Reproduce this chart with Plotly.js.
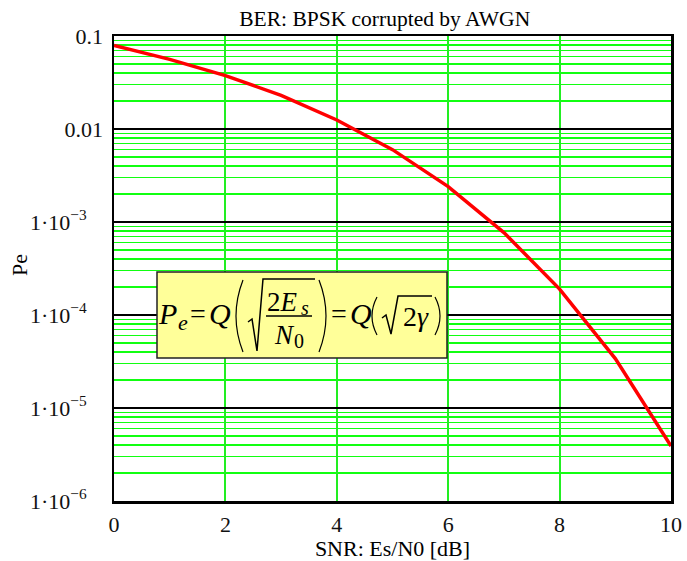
<!DOCTYPE html>
<html>
<head>
<meta charset="utf-8">
<script src="https://cdn.plot.ly/plotly-3.0.1.min.js"></script>
<style>html,body{margin:0;padding:0;background:#fff;}#chart{width:687px;height:561px;}</style>
</head>
<body>
<div id="chart"></div>
<script>
// Data
const snrDb = [0, 1, 2, 3, 4, 5, 6, 7, 8, 9, 10];
const berValues = [0.079, 0.056, 0.0375, 0.023, 0.0125, 0.006, 0.0024, 0.00077, 0.00019, 0.000034, 0.0000039];
const yTickVals = [1e-6, 1e-5, 1e-4, 1e-3, 0.01, 0.1];
const pad = '<span style="color:rgba(0,0,0,0)">0.</span>';
const yTickText = ["1\u00b710<sup>\u22126</sup>" + pad, "1\u00b710<sup>\u22125</sup>" + pad, "1\u00b710<sup>\u22124</sup>" + pad, "1\u00b710<sup>\u22123</sup>" + pad, "0.01", "0.1"];
const xTickVals = [0, 2, 4, 6, 8, 10];

// layout helpers (pixel -> paper)
const L = 114, R = 671, T = 36, B = 501;
const px = p => (p - L) / (R - L);
const py = p => (B - p) / (B - T);

const serif = "Liberation Serif, Times New Roman, serif";

function ann(text, x, y, size) {
  return {text: text, xref: "paper", yref: "paper", x: px(x), y: py(y),
    showarrow: false, xanchor: "center", yanchor: "middle",
    font: {family: serif, size: size || 30, color: "#000"}};
}
function path(d, w) {
  return {type: "path", xref: "paper", yref: "paper", path: d, line: {color: "#000", width: w || 1.5}};
}
function P(x, y) { return px(x).toFixed(5) + "," + py(y).toFixed(5); }

const shapes = [
  {type: "rect", xref: "paper", yref: "paper", x0: px(157), x1: px(447), y0: py(358), y1: py(272),
   fillcolor: "#ffff99", line: {color: "#222", width: 1.5}, layer: "above"},
  // big parentheses around sqrt fraction
  path("M " + P(243, 280) + " Q " + P(229, 316) + " " + P(243, 352), 1.2),
  path("M " + P(319, 280) + " Q " + P(333, 316) + " " + P(319, 352), 1.2),
  // first sqrt
  path("M " + P(248, 322) + " L " + P(252, 319) + " L " + P(257, 351) + " L " + P(263, 279) + " L " + P(315, 279), 1.5),
  // fraction bar
  path("M " + P(266, 316) + " L " + P(312, 316), 1.5),
  // second parentheses
  path("M " + P(377, 297) + " Q " + P(367, 316) + " " + P(377, 335), 1.2),
  path("M " + P(435, 297) + " Q " + P(445, 316) + " " + P(435, 335), 1.2),
  // second sqrt
  path("M " + P(382, 318) + " L " + P(386, 315) + " L " + P(391, 334) + " L " + P(398, 296) + " L " + P(432, 296), 1.5)
];

const annotations = [
  ann("<i>P</i>", 167, 313, 30),
  ann("<i>e</i>", 183, 322, 22),
  ann("=", 198, 313, 28),
  ann("<i>Q</i>", 220, 313, 30),
  ann("2<i>E</i>", 282, 302, 27),
  ann("<i>s</i>", 305, 308, 20),
  ann("<i>N</i>", 284, 335, 27),
  ann("0", 299, 341, 20),
  ann("=", 339, 313, 28),
  ann("<i>Q</i>", 361, 313, 30),
  ann("2<i>\u03b3</i>", 416, 316, 28),
  // y-axis title
  {text: "Pe", xref: "paper", yref: "paper", x: px(19), y: py(265), showarrow: false,
   xanchor: "center", yanchor: "middle", textangle: -90,
   font: {family: serif, size: 22, color: "#000"}}
];

const trace = {
  x: snrDb, y: berValues, type: "scatter", mode: "lines",
  line: {color: "#ff0000", width: 3.5}, hoverinfo: "skip"
};

const layout = {
  width: 687, height: 561,
  margin: {l: L, r: 687 - R, t: T, b: 561 - B},
  paper_bgcolor: "#fff", plot_bgcolor: "#fff",
  showlegend: false,
  title: {text: "BER: BPSK corrupted by AWGN", x: 0.56, xanchor: "center", y: 0.967, yanchor: "middle",
          font: {family: serif, size: 21.5, color: "#000"}},
  xaxis: {
    range: [0, 10], tickvals: xTickVals, ticks: "", showgrid: true, gridcolor: "#22ee22", gridwidth: 2,
    zeroline: false, showline: true, mirror: true, linecolor: "#000", linewidth: 2.5,
    tickfont: {family: serif, size: 22, color: "#111"}, ticklabelstandoff: 2,
    title: {text: "SNR: Es/N0 [dB]", standoff: 10, font: {family: serif, size: 22, color: "#000"}}
  },
  yaxis: {
    type: "log", range: [-6, -1], tickvals: yTickVals, ticktext: yTickText, ticks: "",
    showgrid: true, gridcolor: "#000", gridwidth: 2,
    minor: {dtick: "D1", showgrid: true, gridcolor: "#11ff11", gridwidth: 1.5, ticks: ""},
    zeroline: false, showline: true, mirror: true, linecolor: "#000", linewidth: 2.5,
    tickfont: {family: serif, size: 22, color: "#111"}, ticklabelstandoff: 4,
    automargin: false
  },
  shapes: shapes,
  annotations: annotations
};

Plotly.newPlot("chart", [trace], layout, {staticPlot: true, displayModeBar: false});
</script>
</body>
</html>
